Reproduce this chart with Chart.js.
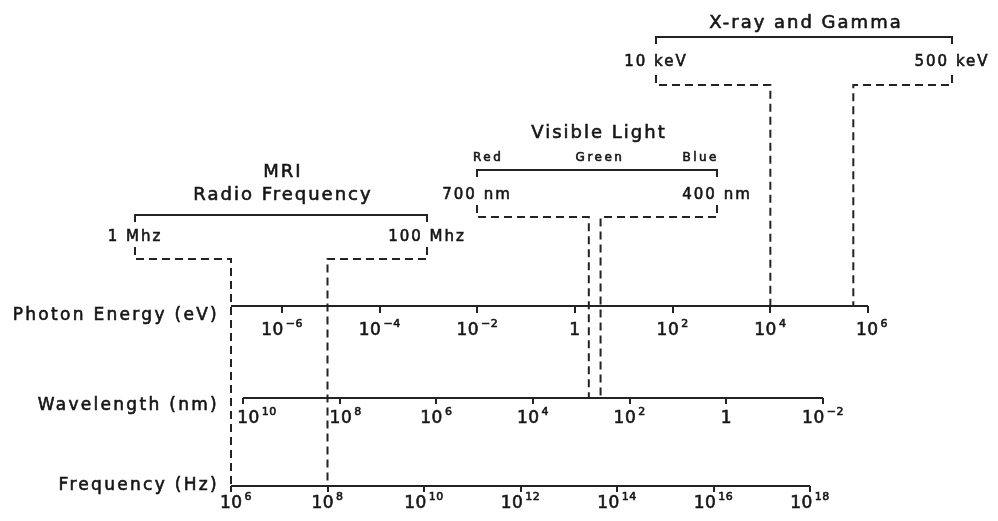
<!DOCTYPE html>
<html>
<head>
<meta charset="utf-8">
<title>Electromagnetic spectrum</title>
<script src="https://cdn.jsdelivr.net/npm/chart.js@4.4.1/dist/chart.umd.min.js"></script>
<style>
  html, body { margin:0; padding:0; background:#fff; }
  canvas { display:block; }
</style>
</head>
<body>
<canvas id="spectrum" width="998" height="521"></canvas>
<script>
// axis ticks
const energyTicks = [1e-6, 1e-4, 1e-2, 1, 1e2, 1e4, 1e6];
const wavelengthTicks = [1e10, 1e8, 1e6, 1e4, 1e2, 1, 1e-2];
const frequencyTicks = [1e6, 1e8, 1e10, 1e12, 1e14, 1e16, 1e18];

// where each printed axis starts and stops
const energyRange = [9e-8, 1e6];
const wavelengthRange = [1e10, 1e-2];
const frequencyRange = [1e6, 1e18];

const axisNames = ["energy", "wavelength", "frequency"];
const axisTitles = ["Photon Energy (eV)", "Wavelength (nm)", "Frequency (Hz)"];

// bands marked above the axes
const bandNames = [["MRI", "Radio Frequency"], ["Visible Light"], ["X-ray and Gamma"]];
const bandAxes = ["frequency", "wavelength", "energy"];
const bandLow = [1e6, 700, 1e4];
const bandHigh = [1e8, 400, 5e5];
const bandLowLabels = ["1 Mhz", "700 nm", "10 keV"];
const bandHighLabels = ["100 Mhz", "400 nm", "500 keV"];
const visibleColours = ["Red", "Green", "Blue"];

// ---- layout (pixels) ----
const INK = "#161616";
const LINE = "#232323";
const FONT = '"DejaVu Sans", Verdana, sans-serif';
const AREA = [231, 868];
const AXIS_ROW = { energy: 306, wavelength: 398, frequency: 486 };
const AXIS_SPAN = { energy: [231, 868], wavelength: [243, 823], frequency: [231, 810] };
const TITLE_ROW = { energy: 316, wavelength: 406, frequency: 486 };
const LABEL_BASE = { energy: 29, wavelength: 25, frequency: 22 };
const TICK_LEN = { energy: 7, wavelength: 6, frequency: 6 };
// small sideways shifts of a few labels, as lettered in the original
const LABEL_NUDGE = { energy: [0, 0, 0, 0, 0, 0, 4], wavelength: [14, 6, 0, 0, 0, 0, 0], frequency: [5, 0, 0, 0, 0, 0, 0] };
const BRACKETS = [
  { x: [135, 427], y: 215, labelY: 237, dashTop: 247, elbow: 259, titleY: [172, 195] },
  { x: [477, 717], y: 170, labelY: 195, dashTop: 205, elbow: 217, titleY: [133], subY: 158 },
  { x: [656, 952], y: 37, labelY: 62, dashTop: 75, elbow: 85, titleY: [23] }
];

const ranges = { energy: energyRange, wavelength: wavelengthRange, frequency: frequencyRange };
const tickSets = { energy: energyTicks, wavelength: wavelengthTicks, frequency: frequencyTicks };

// extend an axis' printed span to the whole chart area
function limitsFor(name){
  const r = ranges[name], span = AXIS_SPAN[name];
  const a = Math.log10(r[0]), b = Math.log10(r[1]);
  const perPx = (b - a) / (span[1] - span[0]);
  const left = a + (AREA[0] - span[0]) * perPx;
  const right = a + (AREA[1] - span[0]) * perPx;
  return { min: Math.pow(10, Math.min(left, right)), max: Math.pow(10, Math.max(left, right)), reverse: b < a };
}

function logAxis(name){
  const lim = limitsFor(name);
  return {
    type: "logarithmic",
    position: { y: AXIS_ROW[name] },
    min: lim.min,
    max: lim.max,
    reverse: lim.reverse,
    bounds: "data",
    afterBuildTicks: axis => { axis.ticks = tickSets[name].map(v => ({ value: v })); },
    border: { display: false },
    grid: { display: true, drawOnChartArea: false, drawTicks: true, tickLength: TICK_LEN[name], lineWidth: 2, color: LINE },
    // labels are drawn with real superscripts in the plugin below
    ticks: { display: false, autoSkip: false }
  };
}

function baseline(name){
  return {
    data: ranges[name].map(v => ({ x: v, y: AXIS_ROW[name] })),
    xAxisID: name, yAxisID: "y",
    borderColor: LINE, borderWidth: 2, pointRadius: 0, borderCapStyle: "butt"
  };
}

function setFont(ctx, size, spacing){
  ctx.font = size + "px " + FONT;
  ctx.letterSpacing = spacing + "px";
}

function text(ctx, str, x, y, size, spacing, align, base){
  ctx.save();
  setFont(ctx, size, spacing);
  ctx.textAlign = align || "center";
  ctx.textBaseline = base || "middle";
  ctx.fillStyle = INK;
  ctx.strokeStyle = INK;
  ctx.lineWidth = 0.6;
  ctx.fillText(str, x, y);
  ctx.strokeText(str, x, y);
  ctx.restore();
}

// "10" with a raised exponent, centred on x
function powerLabel(ctx, v, x, baseY){
  const e = Math.round(Math.log10(v));
  if(e === 0){
    text(ctx, "1", x, baseY, 17, 0.5, "center", "alphabetic");
    return;
  }
  const exp = String(e).replace("-", "\u2212");
  setFont(ctx, 17, 0.5);
  const w1 = ctx.measureText("10").width;
  setFont(ctx, 11, 0.5);
  const w2 = ctx.measureText(exp).width;
  const gap = 2;
  const left = x - (w1 + gap + w2) / 2;
  text(ctx, "10", left, baseY, 17, 0.5, "left", "alphabetic");
  text(ctx, exp, left + w1 + gap, baseY - 8, 11, 0.5, "left", "alphabetic");
}

const annotationPlugin = {
  id: "bands",
  afterDraw(chart){
    const ctx = chart.ctx;
    ctx.save();

    // axis titles and tick labels
    axisNames.forEach((name, i) => {
      text(ctx, axisTitles[i], 219, TITLE_ROW[name], 17, 2.3, "right");
      const scale = chart.scales[name];
      tickSets[name].forEach((v, k) => {
        const x = scale.getPixelForValue(v) + LABEL_NUDGE[name][k];
        powerLabel(ctx, v, x, AXIS_ROW[name] + LABEL_BASE[name]);
      });
    });

    ctx.strokeStyle = LINE;
    ctx.lineWidth = 2;
    BRACKETS.forEach((b, i) => {
      const scale = chart.scales[bandAxes[i]];
      const row = AXIS_ROW[bandAxes[i]];
      const xs = [scale.getPixelForValue(bandLow[i]), scale.getPixelForValue(bandHigh[i])];

      // solid bracket
      ctx.setLineDash([]);
      ctx.beginPath();
      ctx.moveTo(b.x[0], b.y + 7);
      ctx.lineTo(b.x[0], b.y);
      ctx.lineTo(b.x[1], b.y);
      ctx.lineTo(b.x[1], b.y + 7);
      ctx.stroke();

      // dashed leaders down to the axis
      ctx.setLineDash([8, 5]);
      for(let k = 0; k < 2; k++){
        ctx.beginPath();
        ctx.moveTo(b.x[k], b.dashTop);
        ctx.lineTo(b.x[k], b.elbow);
        ctx.lineTo(xs[k], b.elbow);
        ctx.lineTo(xs[k], row);
        ctx.stroke();
      }
      ctx.setLineDash([]);

      // labels
      bandNames[i].forEach((line, j) => {
        text(ctx, line, (b.x[0] + b.x[1]) / 2 + 2, b.titleY[j], 18, 2);
      });
      text(ctx, bandLowLabels[i], b.x[0], b.labelY, 15, 2);
      text(ctx, bandHighLabels[i], b.x[1], b.labelY, 15, 2);

      if(b.subY){
        text(ctx, visibleColours[0], b.x[0] - 4, b.subY, 12, 2.5, "left");
        text(ctx, visibleColours[1], (b.x[0] + b.x[1]) / 2 + 3, b.subY, 12, 2.5);
        text(ctx, visibleColours[2], b.x[1] + 2, b.subY, 12, 2.5, "right");
      }
    });

    ctx.restore();
  }
};

const scales = {
  y: { type: "linear", display: false, min: 0, max: 521, reverse: true }
};
axisNames.forEach(n => { scales[n] = logAxis(n); });

new Chart(document.getElementById("spectrum"), {
  type: "line",
  data: { datasets: axisNames.map(baseline) },
  options: {
    responsive: false,
    devicePixelRatio: 1,
    animation: false,
    events: [],
    layout: { padding: { left: AREA[0], right: 998 - AREA[1], top: 0, bottom: 0 } },
    plugins: { legend: { display: false }, tooltip: { enabled: false } },
    scales
  },
  plugins: [annotationPlugin]
});
</script>
</body>
</html>
